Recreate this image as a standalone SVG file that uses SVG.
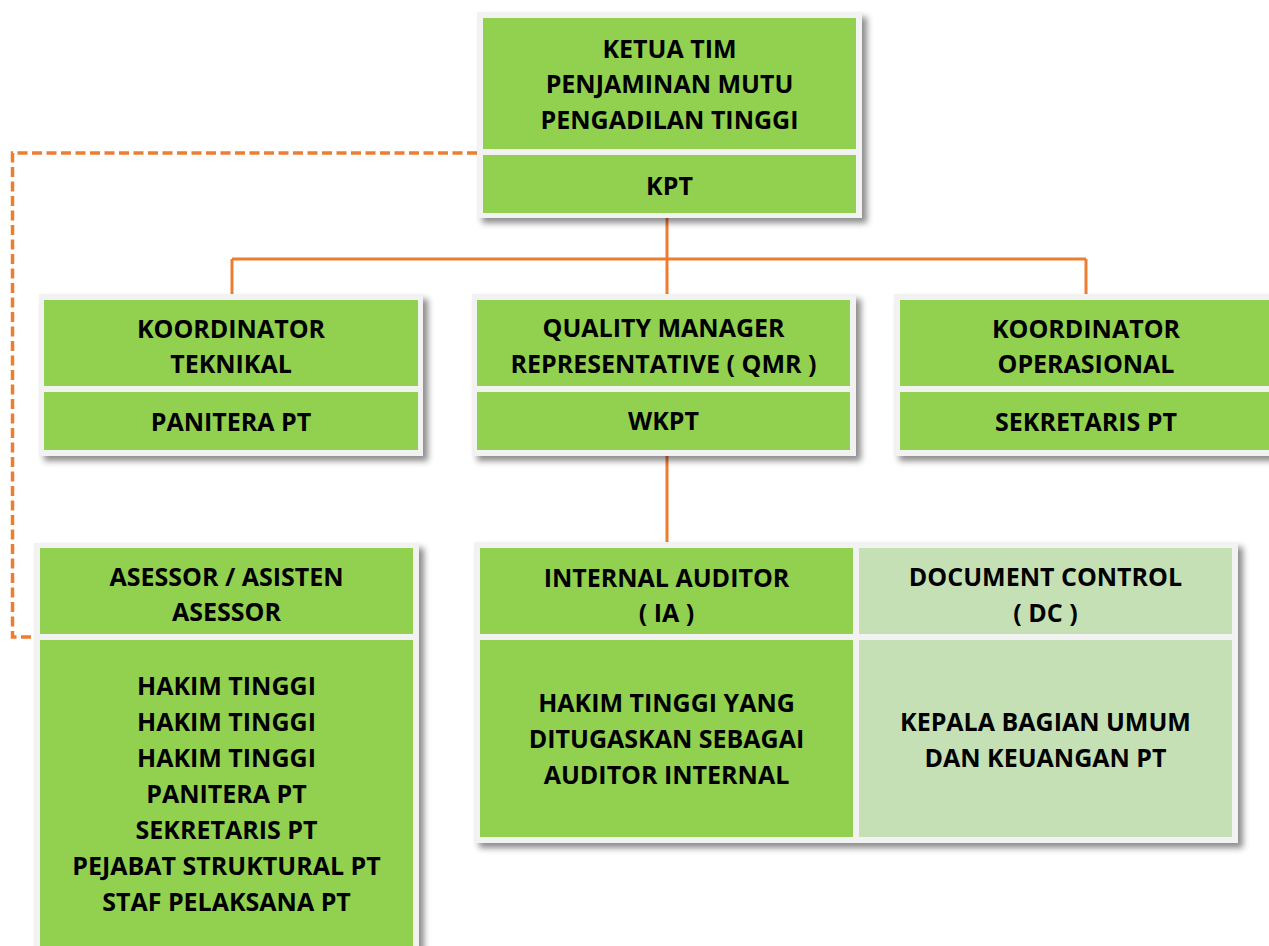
<svg xmlns="http://www.w3.org/2000/svg" width="1269" height="946" viewBox="0 0 1269 946">
<defs>
<filter id="sh" x="-10%" y="-10%" width="125%" height="130%">
<feDropShadow dx="5" dy="5" stdDeviation="3" flood-color="#000" flood-opacity="0.45"/>
</filter>
<style>
.frame{fill:#f2f2f2;filter:url(#sh)}
.g{fill:#92d050}
.lg{fill:#c5e0b4}
.t{font-family:"Open Sans","Liberation Sans",sans-serif;font-weight:bold;font-size:25px;fill:#000;text-anchor:middle}
.c{fill:none;stroke:#ed7d31;stroke-width:3}
.d{fill:none;stroke:#ed7d31;stroke-width:3.5;stroke-dasharray:10 4.5}
</style>
</defs>
<rect width="1269" height="946" fill="#fff"/>
<g id="connectors">
<path class="c" d="M667 218 V300"/>
<path class="c" d="M232 259 H1086"/>
<path class="c" d="M232 259 V294"/>
<path class="c" d="M1086 259 V294"/>
<path class="c" d="M667 456 V542"/>
<path class="d" d="M477 153 H12.5 V637 H34"/>
</g>
<g id="ketua">
<rect class="frame" x="477" y="12" width="385" height="206"/>
<rect class="g" x="483" y="18" width="373" height="131"/>
<rect class="g" x="483" y="155" width="373" height="58"/>
<text class="t" x="669.5" y="58">KETUA TIM</text>
<text class="t" x="669.5" y="93">PENJAMINAN MUTU</text>
<text class="t" x="669.5" y="129">PENGADILAN TINGGI</text>
<text class="t" x="669.5" y="195">KPT</text>
</g>
<g id="teknikal">
<rect class="frame" x="39" y="294" width="384" height="162"/>
<rect class="g" x="44" y="300" width="374" height="86"/>
<rect class="g" x="44" y="392" width="374" height="58"/>
<text class="t" x="231" y="338">KOORDINATOR</text>
<text class="t" x="231" y="373">TEKNIKAL</text>
<text class="t" x="231" y="431">PANITERA PT</text>
</g>
<g id="qmr">
<rect class="frame" x="472" y="294" width="384" height="162"/>
<rect class="g" x="477" y="300" width="373" height="86"/>
<rect class="g" x="477" y="392" width="373" height="58"/>
<text class="t" x="663.5" y="337">QUALITY MANAGER</text>
<text class="t" x="663.5" y="373">REPRESENTATIVE ( QMR )</text>
<text class="t" x="663.5" y="430">WKPT</text>
</g>
<g id="operasional">
<rect class="frame" x="894" y="294" width="384" height="162"/>
<rect class="g" x="900" y="300" width="372" height="86"/>
<rect class="g" x="900" y="392" width="372" height="58"/>
<text class="t" x="1086" y="338">KOORDINATOR</text>
<text class="t" x="1086" y="373">OPERASIONAL</text>
<text class="t" x="1086" y="431">SEKRETARIS PT</text>
</g>
<g id="asesor">
<rect class="frame" x="34" y="543" width="385" height="420"/>
<rect class="g" x="40" y="548" width="373" height="86"/>
<rect class="g" x="40" y="640" width="373" height="320"/>
<text class="t" x="226.5" y="586">ASESSOR / ASISTEN</text>
<text class="t" x="226.5" y="621">ASESSOR</text>
<text class="t" x="226.5" y="695">HAKIM TINGGI</text>
<text class="t" x="226.5" y="731">HAKIM TINGGI</text>
<text class="t" x="226.5" y="767">HAKIM TINGGI</text>
<text class="t" x="226.5" y="803">PANITERA PT</text>
<text class="t" x="226.5" y="839">SEKRETARIS PT</text>
<text class="t" x="226.5" y="875">PEJABAT STRUKTURAL PT</text>
<text class="t" x="226.5" y="911">STAF PELAKSANA PT</text>
</g>
<g id="audit-table">
<rect class="frame" x="474" y="542" width="764" height="301"/>
</g>
<g id="internal-auditor">
<rect class="g" x="480" y="548" width="373" height="86"/>
<rect class="g" x="480" y="640" width="373" height="197"/>
<text class="t" x="666.5" y="587">INTERNAL AUDITOR</text>
<text class="t" x="666.5" y="622">( IA )</text>
<text class="t" x="666.5" y="712">HAKIM TINGGI YANG</text>
<text class="t" x="666.5" y="748">DITUGASKAN SEBAGAI</text>
<text class="t" x="666.5" y="784">AUDITOR INTERNAL</text>
</g>
<g id="document-control">
<rect class="lg" x="859" y="548" width="373" height="86"/>
<rect class="lg" x="859" y="640" width="373" height="197"/>
<text class="t" x="1045.5" y="586">DOCUMENT CONTROL</text>
<text class="t" x="1045.5" y="622">( DC )</text>
<text class="t" x="1045.5" y="731">KEPALA BAGIAN UMUM</text>
<text class="t" x="1045.5" y="767">DAN KEUANGAN PT</text>
</g>
</svg>
